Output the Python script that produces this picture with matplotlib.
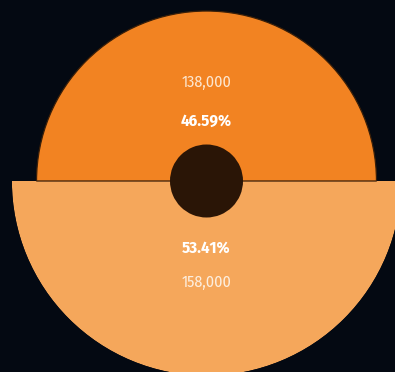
import numpy as np
import matplotlib
matplotlib.use("Agg")
import matplotlib.pyplot as plt

# Data
categories = ["A", "B"]
values = [138000, 158000]
percent_labels = ["46.59%", "53.41%"]
value_labels = ["138,000", "158,000"]

# Styles
colors = ["#f28322", "#f5a75b"]
bg = "#040912"
hole_color = "#2a1506"

W, H = 395, 372
fig = plt.figure(figsize=(W / 100, H / 100), dpi=100, facecolor=bg)

cx, cy = 206.5, H - 181.0
rmax = max(values)
R = 194.6  # pixel radius for the largest value
ax = fig.add_axes([(cx - R) / W, (cy - R) / H, 2 * R / W, 2 * R / H],
                  projection="polar")
ax.set_facecolor("none")
ax.set_ylim(0, rmax)
ax.grid(False)
ax.set_xticks([])
ax.set_yticks([])
ax.spines["polar"].set_visible(False)

thetas = [np.pi / 2, 3 * np.pi / 2]
ax.bar(thetas[1], values[1], width=np.pi, color=colors[1], linewidth=0, zorder=1)
ax.bar(thetas[0], values[0], width=np.pi, color=colors[0],
       edgecolor="#3a1f08", linewidth=0.9, zorder=2)

# center hole
hole_r = rmax * 36.5 / R
ax.bar(0, hole_r, width=2 * np.pi, bottom=0, color=hole_color, linewidth=0, zorder=3)

fam = ["Fira Sans Condensed", "DejaVu Sans"]
ax.text(thetas[0], rmax * 98.5 / R, value_labels[0], ha="center", va="center",
        color="#fde6cf", fontsize=11.5, fontweight="normal", family=fam, zorder=4)
ax.text(thetas[0], rmax * 60 / R, percent_labels[0], ha="center", va="center",
        color="white", fontsize=12, fontweight="bold", family=fam, zorder=4)
ax.text(thetas[1], rmax * 67 / R, percent_labels[1], ha="center", va="center",
        color="white", fontsize=12, fontweight="bold", family=fam, zorder=4)
ax.text(thetas[1], rmax * 101.5 / R, value_labels[1], ha="center", va="center",
        color="#fdeede", fontsize=11.5, fontweight="normal", family=fam, zorder=4)

fig.savefig("out.png", dpi=100, facecolor=bg)
